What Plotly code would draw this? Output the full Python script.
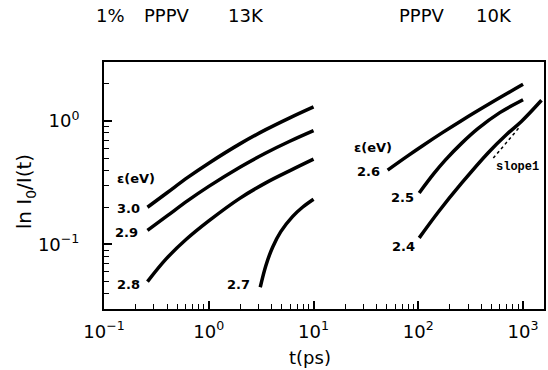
import math
import plotly.graph_objects as go

# ---------------- data ----------------
# left panel: 1% PPPV 13K
t_30 = [0.26, 0.4, 0.63, 1.0, 2.0, 3.5, 6.0, 10.0]
y_30 = [0.20, 0.262, 0.349, 0.455, 0.655, 0.85, 1.065, 1.30]
t_29 = [0.26, 0.4, 0.63, 1.0, 2.0, 3.5, 6.0, 10.0]
y_29 = [0.130, 0.170, 0.226, 0.295, 0.424, 0.550, 0.688, 0.835]
t_28 = [0.26, 0.39, 0.61, 1.0, 1.96, 3.5, 6.3, 10.0]
y_28 = [0.050, 0.076, 0.110, 0.155, 0.235, 0.315, 0.405, 0.49]
t_27 = [3.1, 3.5, 4.07, 4.87, 6.3, 7.8, 10.0]
y_27 = [0.045, 0.067, 0.095, 0.127, 0.168, 0.199, 0.232]
# right panel: PPPV 10K
t_26 = [51, 80, 110, 170, 260, 500, 1000]
y_26 = [0.40, 0.524, 0.63, 0.804, 1.01, 1.41, 1.98]
t_25 = [102, 140, 180, 260, 373, 600, 1000]
y_25 = [0.261, 0.372, 0.479, 0.661, 0.870, 1.168, 1.486]
t_24 = [102, 156, 259, 465, 700, 964, 1500]
y_24 = [0.113, 0.184, 0.313, 0.553, 0.78, 0.99, 1.47]
# slope-1 guide
t_slope = [520, 930]
y_slope = [0.50, 0.895]

curves = [
    ("3.0", t_30, y_30), ("2.9", t_29, y_29), ("2.8", t_28, y_28), ("2.7", t_27, y_27),
    ("2.6", t_26, y_26), ("2.5", t_25, y_25), ("2.4", t_24, y_24),
]

x_tickvals = [0.1, 1, 10, 100, 1000]
x_ticktext = ["10<sup>\u22121</sup>", "10<sup>0</sup>", "10<sup>1</sup>", "10<sup>2</sup>", "10<sup>3</sup>"]
y_tickvals = [0.1, 1]
y_ticktext = ["10<sup>\u22121</sup>", "10<sup>0</sup>"]

x_minor = [m * 10 ** e for e in range(-1, 4) for m in range(2, 10)]
y_minor = [m * 10 ** e for e in range(-2, 1) for m in range(2, 10)]

fig = go.Figure()
for name, t, y in curves:
    fig.add_trace(go.Scatter(x=t, y=y, mode="lines", line=dict(color="black", width=3.5, shape="spline"),
                             showlegend=False, name=name))
fig.add_trace(go.Scatter(x=t_slope, y=y_slope, mode="lines",
                         line=dict(color="black", width=1.5, dash="dot"), showlegend=False))

lab_font = dict(family="DejaVu Sans", size=13, color="black", weight="bold")
label_shift = {"3.0": (-5, -1), "2.9": (-7, -2), "2.8": (-5, -3), "2.7": (-8, 3),
               "2.6": (-6, -1), "2.5": (-3, -5), "2.4": (-2, -9)}
for name, t, y in curves:
    dx, dy = label_shift[name]
    fig.add_annotation(x=math.log10(t[0]), y=math.log10(y[0]), text=name, showarrow=False,
                       xanchor="right", yanchor="middle", xshift=dx, yshift=dy, font=lab_font)

W, H = 548, 370
L, R, T, B = 104, 2, 62, 61
pw, ph = W - L - R, H - T - B


def px(xp):
    return (xp - L) / pw


def py(yp):
    return (H - B - yp) / ph


for txt, xc, yc in [("\u03b5(eV)", 136, 178), ("\u03b5(eV)", 374, 147)]:
    fig.add_annotation(x=px(xc), y=py(yc), xref="paper", yref="paper", text=txt, showarrow=False,
                       xanchor="center", yanchor="middle", font=lab_font)

fig.add_annotation(x=px(519), y=py(167), xref="paper", yref="paper", text="slope1", showarrow=False,
                   xanchor="center", yanchor="middle",
                   font=dict(family="Liberation Mono", size=12, color="black", weight="bold"))

title_font = dict(family="DejaVu Sans", size=18, color="black")
for txt, xc in [("1%", 111), ("PPPV", 167), ("13K", 247), ("PPPV", 423), ("10K", 496)]:
    fig.add_annotation(x=px(xc), y=py(15), xref="paper", yref="paper", text=txt, showarrow=False,
                       xanchor="center", yanchor="middle", font=title_font)

fig.add_annotation(x=px(311), y=py(357), xref="paper", yref="paper", text="t(ps)", showarrow=False,
                   xanchor="center", yanchor="middle", font=dict(family="DejaVu Sans", size=18, color="black"))
fig.add_annotation(x=px(25), y=py(191), xref="paper", yref="paper", text="ln I<sub>0</sub>/I(t)",
                   showarrow=False, textangle=-90, xanchor="center", yanchor="middle",
                   font=dict(family="DejaVu Sans", size=20, color="black"))

axis_common = dict(type="log", showgrid=False, zeroline=False, showline=True, linewidth=2,
                   linecolor="black", mirror=True, ticks="inside", ticklen=8, tickwidth=1.5,
                   tickcolor="black", tickfont=dict(family="DejaVu Sans", size=18, color="black"))

fig.update_xaxes(**axis_common, range=[-1, 3.2], tickmode="array", tickvals=x_tickvals, ticktext=x_ticktext,
                 ticklabelstandoff=5,
                 minor=dict(tickmode="array", tickvals=x_minor, ticks="inside", ticklen=5, tickwidth=1.2,
                            tickcolor="black", showgrid=False))
fig.update_yaxes(**axis_common, range=[math.log10(0.03), math.log10(3)], tickmode="array",
                 tickvals=y_tickvals, ticktext=y_ticktext, ticklabelstandoff=19,
                 minor=dict(tickmode="array", tickvals=y_minor, ticks="inside", ticklen=5, tickwidth=1.2,
                            tickcolor="black", showgrid=False))

fig.update_layout(width=W, height=H, margin=dict(l=L, r=R, t=T, b=B), plot_bgcolor="white",
                  paper_bgcolor="white", showlegend=False)

fig.write_html("out.html")
